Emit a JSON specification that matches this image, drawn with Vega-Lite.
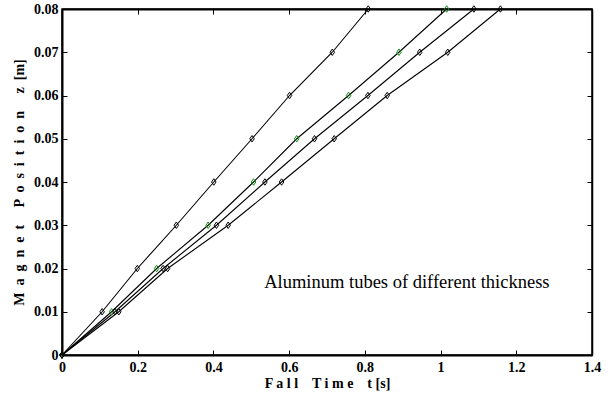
{
  "$schema": "https://vega.github.io/schema/vega-lite/v6.json",
  "width": 530,
  "height": 346,
  "autosize": "none",
  "padding": {"left": 62, "top": 9, "right": 22, "bottom": 42},
  "background": "white",
  "config": {
    "view": {"stroke": "black", "strokeWidth": 1.5},
    "axis": {
      "grid": false,
      "domainColor": "black",
      "domainWidth": 2,
      "tickColor": "black",
      "tickSize": -5,
      "tickWidth": 1,
      "labelFont": "Liberation Serif, Times New Roman, serif",
      "labelFontWeight": "bold",
      "labelFontSize": 14,
      "labelColor": "black",
      "labelFlush": false,
      "labelOverlap": false,
      "titleFont": "Liberation Serif, Times New Roman, serif",
      "titleFontWeight": "bold",
      "titleFontSize": 14,
      "titleColor": "black"
    }
  },
  "data": {
    "values": [
      {"s": "A", "t": 0, "z": 0}, {"s": "A", "t": 0.106, "z": 0.01}, {"s": "A", "t": 0.199, "z": 0.02}, {"s": "A", "t": 0.302, "z": 0.03}, {"s": "A", "t": 0.401, "z": 0.04}, {"s": "A", "t": 0.502, "z": 0.05}, {"s": "A", "t": 0.601, "z": 0.06}, {"s": "A", "t": 0.714, "z": 0.07}, {"s": "A", "t": 0.809, "z": 0.08},
      {"s": "B", "t": 0, "z": 0}, {"s": "B", "t": 0.131, "z": 0.01}, {"s": "B", "t": 0.25, "z": 0.02}, {"s": "B", "t": 0.386, "z": 0.03}, {"s": "B", "t": 0.506, "z": 0.04}, {"s": "B", "t": 0.62, "z": 0.05}, {"s": "B", "t": 0.757, "z": 0.06}, {"s": "B", "t": 0.89, "z": 0.07}, {"s": "B", "t": 1.016, "z": 0.08},
      {"s": "C", "t": 0, "z": 0}, {"s": "C", "t": 0.14, "z": 0.01}, {"s": "C", "t": 0.267, "z": 0.02}, {"s": "C", "t": 0.408, "z": 0.03}, {"s": "C", "t": 0.536, "z": 0.04}, {"s": "C", "t": 0.667, "z": 0.05}, {"s": "C", "t": 0.808, "z": 0.06}, {"s": "C", "t": 0.945, "z": 0.07}, {"s": "C", "t": 1.088, "z": 0.08},
      {"s": "D", "t": 0, "z": 0}, {"s": "D", "t": 0.15, "z": 0.01}, {"s": "D", "t": 0.279, "z": 0.02}, {"s": "D", "t": 0.439, "z": 0.03}, {"s": "D", "t": 0.58, "z": 0.04}, {"s": "D", "t": 0.719, "z": 0.05}, {"s": "D", "t": 0.859, "z": 0.06}, {"s": "D", "t": 1.019, "z": 0.07}, {"s": "D", "t": 1.158, "z": 0.08}
    ]
  },
  "layer": [
    {
      "encoding": {
        "x": {
          "field": "t", "type": "quantitative",
          "scale": {"domain": [0, 1.4], "nice": false, "zero": false},
          "axis": {"orient": "bottom", "values": [0, 0.2, 0.4, 0.6, 0.8, 1, 1.2, 1.4], "format": "~g", "labelPadding": 10, "title": "F a l l \u00a0 \u00a0T i m e \u00a0 \u00a0t [s]", "titlePadding": 2}
        },
        "y": {
          "field": "z", "type": "quantitative",
          "scale": {"domain": [0, 0.08], "nice": false, "zero": false},
          "axis": {"orient": "left", "values": [0, 0.01, 0.02, 0.03, 0.04, 0.05, 0.06, 0.07, 0.08], "format": "~g", "labelPadding": 9, "title": "M \u00a0a \u00a0g \u00a0n \u00a0e \u00a0t \u00a0 \u00a0 P \u00a0o \u00a0s \u00a0i \u00a0t \u00a0i \u00a0o \u00a0n \u00a0 \u00a0 z \u00a0[m]", "titlePadding": 7}
        }
      },
      "layer": [
        {
          "mark": {"type": "line", "color": "black", "strokeWidth": 1.1},
          "encoding": {"detail": {"field": "s"}}
        },
        {
          "mark": {"type": "point", "shape": "M0,-1L0.7,0L0,1L-0.7,0Z", "filled": false, "size": 42, "strokeWidth": 1, "opacity": 1},
          "encoding": {
            "color": {"field": "s", "type": "nominal", "scale": {"domain": ["A", "B", "C", "D"], "range": ["black", "#0b8a0b", "black", "black"]}, "legend": null}
          }
        }
      ]
    },
    {
      "data": {"values": [{"label": "Aluminum tubes of different thickness"}]},
      "mark": {"type": "text", "font": "Liberation Serif, Times New Roman, serif", "fontSize": 18.5, "color": "black", "align": "center", "baseline": "middle"},
      "encoding": {
        "text": {"field": "label"},
        "x": {
          "datum": 0.911, "type": "quantitative",
          "scale": {"domain": [0, 1.4], "nice": false, "zero": false},
          "axis": {"orient": "top", "values": [0, 0.2, 0.4, 0.6, 0.8, 1, 1.2, 1.4], "labels": false, "title": null, "domainWidth": 2}
        },
        "y": {
          "datum": 0.0169, "type": "quantitative",
          "scale": {"domain": [0, 0.08], "nice": false, "zero": false},
          "axis": {"orient": "right", "values": [0, 0.01, 0.02, 0.03, 0.04, 0.05, 0.06, 0.07, 0.08], "labels": false, "title": null, "domainWidth": 1.5}
        }
      }
    }
  ],
  "resolve": {"scale": {"x": "independent", "y": "independent"}}
}
